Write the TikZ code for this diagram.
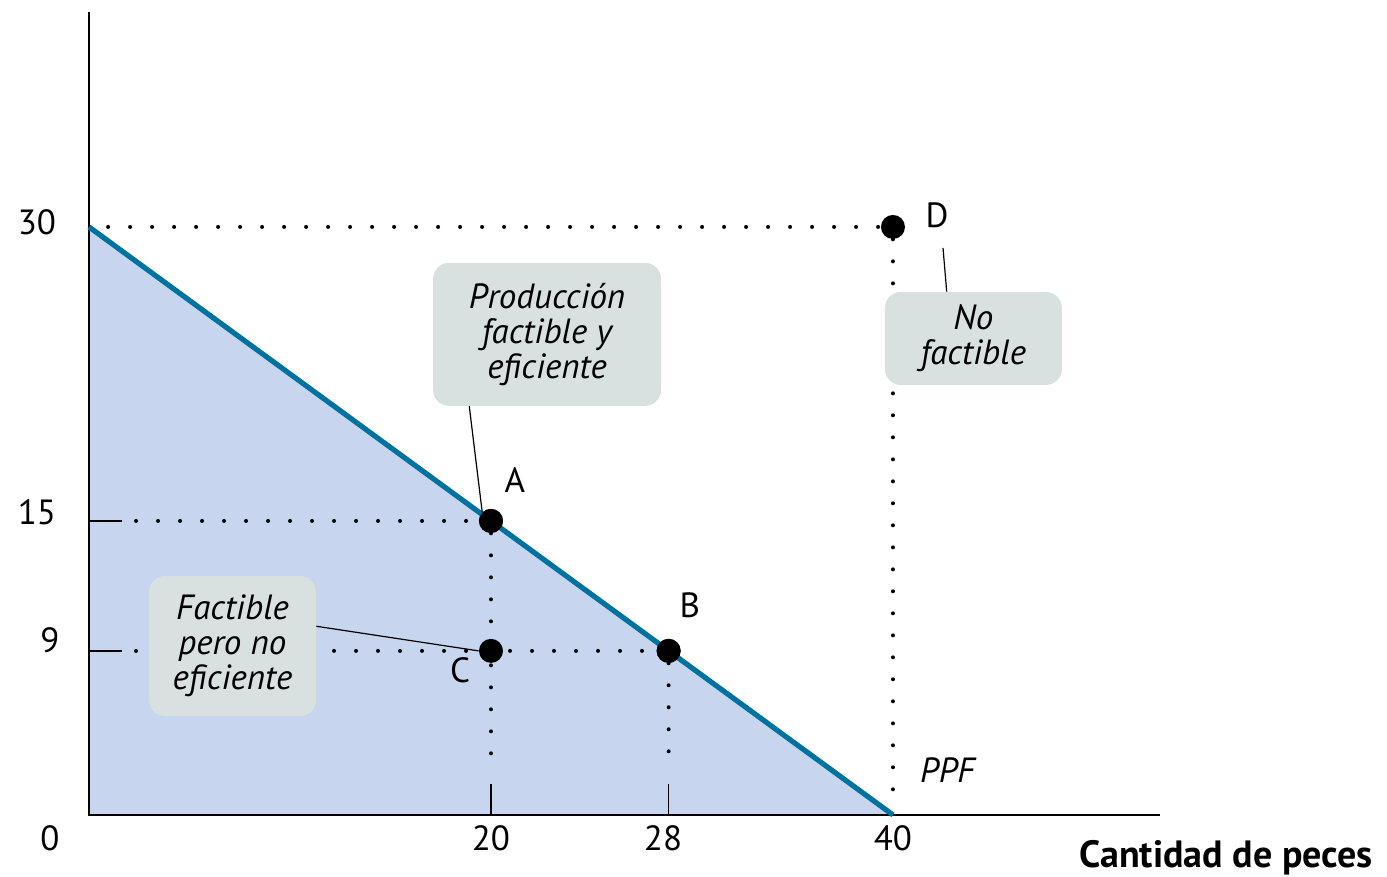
\documentclass[tikz,border=0pt]{standalone}
\usepackage{fontspec}
\setmainfont{PT Sans}
\usepackage{xcolor}
\usetikzlibrary{calc, positioning, backgrounds}

\definecolor{ppfblue}{RGB}{0,114,160}
\definecolor{regionfill}{RGB}{200,213,238}
\definecolor{notefill}{RGB}{216,225,224}

\begin{document}
\begin{tikzpicture}[
        x=10.05pt, y=9.8pt,
        axis/.style={line width=0.75pt, draw=black},
        tick/.style={line width=0.75pt, draw=black},
        guide/.style={line width=2pt, line cap=round, dash pattern=on 0pt off 11pt},
        ppf/.style={line width=2.6pt, draw=ppfblue},
        point/.style={circle, fill=black, minimum size=12pt, inner sep=0pt},
        note/.style={rectangle, fill=notefill, rounded corners=8pt, align=center, inner sep=0pt, font=\fontsize{17.5}{17.5}\selectfont\itshape},
        callout/.style={line width=0.6pt, draw=black},
        num/.style={font=\fontsize{17.5}{20}\selectfont},
    ]
        \useasboundingbox (-4.428,-3.163) rectangle (64.58,41.58);

        % Feasible region and frontier
        \fill[regionfill] (0,0) -- (0,30) -- (40,0) -- cycle;
        \draw[axis] (0,40.97) -- (0,0) -- (53.28,0);

        % Points
        \node[point] (A) at (20,15) {};
        \node[point] (B) at (28.84,8.37) {};
        \node[point] (C) at (20,8.37) {};
        \node[point] (D) at (40,30) {};

        % Ticks
        \draw[tick] (0,15) -- (1.64,15);
        \draw[tick] (0,8.37) -- (1.64,8.37);
        \draw[tick] (20,0) -- (20,1.58);
        \draw[tick] (28.84,0) -- (28.84,1.58);

        % Dotted guides
        \draw[guide] (0.95,30) -- (D);
        \draw[guide] (2.34,15) -- (A);
        \draw[guide] (2.34,8.37) -- (B);
        \draw[guide] (A) -- (20,2.35);
        \draw[guide] (B) -- (28.84,2.35);
        \draw[guide] (D) -- (40,0.4);

        \draw[ppf] (0,30) -- (40,0);

        % Points again on top of the frontier
        \node[point] at (A) {};
        \node[point] at (B) {};

        % Notes
        \node[note, minimum width=114pt, minimum height=71.5pt] (prod) at (22.79,24.52) {Producción\\factible y\\eficiente};
        \node[note, minimum width=88.5pt, minimum height=46.5pt] (nofact) at (44.0,24.31) {No\\factible};
        \node[note, minimum width=83.5pt, minimum height=70pt] (fact) at (7.14,8.62) {Factible\\pero no\\eficiente};

        \coordinate (dtip) at (42.49,28.93);
        \draw[callout] ($(prod.south west)!0.16!(prod.south east)$) -- (A.north west);
        \draw[callout] (dtip) -- ($(nofact.north west)!0.35!(nofact.north east)$);
        \draw[callout] ($(fact.north east)!0.36!(fact.south east)$) -- (C.west);

        % Point labels
        \node[num] (labA) at (21.19,17.09) {A};
        \node[num] (labB) at (29.9,10.71) {B};
        \node[num] (labC) at (18.46,7.40) {C};
        \node[num] (labD) at (42.19,30.61) {D};
        \node[num, font=\fontsize{17.5}{20}\selectfont\itshape, anchor=west] (labPPF) at (41.0,2.3) {PPF};

        % Axis numbers
        \node[num] (y30) at (-2.59,30.26) {30};
        \node[num] (y15) at (-2.59,15.46) {15};
        \node[num] (y9) at (-1.94,8.93) {9};
        \node[num] (x0) at (-1.94,-1.17) {0};
        \node[num] (x20) at (20,-1.17) {20};
        \node[num] (x28) at (28.56,-1.17) {28};
        \node[num] (x40) at (40,-1.17) {40};
        \node[font=\fontsize{19}{22}\selectfont\bfseries, anchor=east] (xlabel) at (64.23,-2.19) {Cantidad de peces};
    \end{tikzpicture}
\end{document}
